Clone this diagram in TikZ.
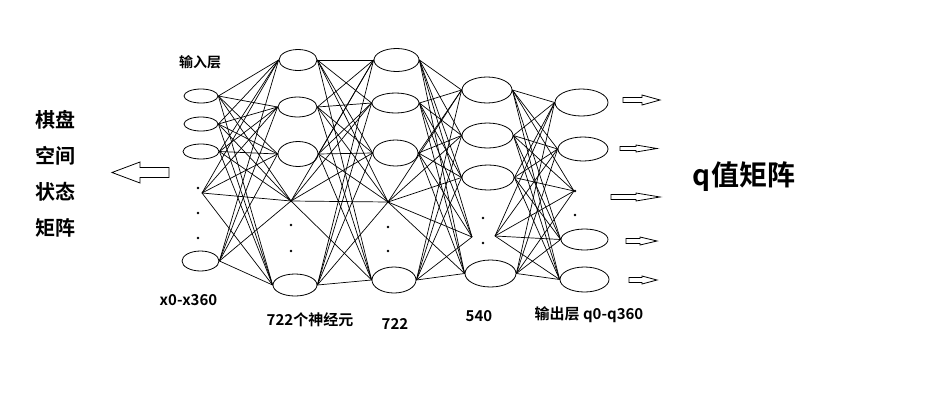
\documentclass[tikz,border=0pt]{standalone}
\usepackage{fontspec}
\usetikzlibrary{shapes.geometric}
\setmainfont{Noto Sans CJK SC}[BoldFont={Noto Sans CJK SC Bold}]
\begin{document}
\begin{tikzpicture}[x=1pt,y=-1pt,
  neuron/.style={draw,ellipse,inner sep=0pt,line width=0.8pt},
  link/.style={line width=0.7pt},
  dotmark/.style={fill,circle,inner sep=0pt,minimum size=2.6pt},
  lbl/.style={font=\bfseries\fontsize{15}{15}\selectfont,inner sep=0pt},
  hollow/.style={draw,line width=0.8pt,fill=white}]
\useasboundingbox (0,0) rectangle (932,405);
% layer 1
\node[neuron,minimum width=34pt,minimum height=14pt] (a1) at (201,96) {};
\node[neuron,minimum width=34pt,minimum height=14pt] (a2) at (201,124) {};
\node[neuron,minimum width=36pt,minimum height=15pt] (a3) at (201,151.5) {};
\coordinate (a4) at (202,193);
\node[neuron,minimum width=37pt,minimum height=20pt] (a5) at (200.5,261) {};
% layer 2
\node[neuron,minimum width=38pt,minimum height=21pt] (b1) at (298,60) {};
\node[neuron,minimum width=39pt,minimum height=20pt] (b2) at (297.5,107) {};
\node[neuron,minimum width=40pt,minimum height=25pt] (b3) at (298,154) {};
\coordinate (b4) at (291,201);
\node[neuron,minimum width=44pt,minimum height=22pt] (b5) at (295,285) {};
% layer 3
\node[neuron,minimum width=45pt,minimum height=23pt] (c1) at (396.5,60) {};
\node[neuron,minimum width=47pt,minimum height=20pt] (c2) at (395.5,103) {};
\node[neuron,minimum width=45pt,minimum height=26pt] (c3) at (395.5,153) {};
\coordinate (c4) at (388,202);
\node[neuron,minimum width=44pt,minimum height=26pt] (c5) at (394,280) {};
% layer 4
\node[neuron,minimum width=50pt,minimum height=26pt] (d1) at (487,90) {};
\node[neuron,minimum width=51pt,minimum height=25pt] (d2) at (487.5,135.5) {};
\node[neuron,minimum width=52pt,minimum height=25pt] (d3) at (488,177.5) {};
\coordinate (d4L) at (472,237);
\coordinate (d4R) at (495,236);
\node[neuron,minimum width=51pt,minimum height=27pt] (d5) at (490.5,273.5) {};
% layer 5
\node[neuron,minimum width=53pt,minimum height=27pt] (e1) at (581.5,102.5) {};
\node[neuron,minimum width=50pt,minimum height=24pt] (e2) at (583,149) {};
\coordinate (e3) at (574,191);
\node[neuron,minimum width=47pt,minimum height=21pt] (e4) at (584.5,239.5) {};
\node[neuron,minimum width=49pt,minimum height=25pt] (e5) at (584.5,279.5) {};
% dots
\foreach \n/\p in {p1/{(198,188)},p2/{(198,213)},p3/{(198,238)},
  q1/{(291,201)},q2/{(291,225)},q3/{(291,251)},
  r1/{(388,202)},r2/{(388,227)},r3/{(388,251)},
  s1/{(483,218)},s2/{(483,243)},
  t1/{(575,191)},t2/{(575,215)}}
  \node[dotmark] (\n) at \p {};
% connections
\foreach \s in {a1.east,a2.east,a3.east,a4,a5.east}
  \foreach \t in {b1.west,b2.west,b3.west,b4,b5.west}
    \draw[link] (\s) -- (\t);
\foreach \s in {b1.east,b2.east,b3.east,b4,b5.east}
  \foreach \t in {c1.west,c2.west,c3.west,c4,c5.west}
    \draw[link] (\s) -- (\t);
\foreach \s in {c1.east,c2.east,c3.east,c4,c5.east}
  \foreach \t in {d1.west,d2.west,d3.west,d4L,d5.west}
    \draw[link] (\s) -- (\t);
\foreach \s in {d1.east,d2.east,d3.east,d4R,d5.east}
  \foreach \t in {e1.west,e2.west,e3,e4.west,e5.west}
    \draw[link] (\s) -- (\t);
% output arrows
\draw[hollow] (623,100) ++(0,-2.5) -- ++(19,0) -- ++(0,-2.5) -- ++(18,5) -- ++(-18,5) -- ++(0,-2.5) -- ++(-19,0) -- cycle;
\draw[hollow] (620,148.5) ++(0,-2) -- ++(16,0) -- ++(0,-1.5) -- ++(21,3.5) -- ++(-21,3.5) -- ++(0,-1.5) -- ++(-16,0) -- cycle;
\draw[hollow] (611,197) ++(0,-2.5) -- ++(25,0) -- ++(0,-1.5) -- ++(24,4) -- ++(-24,4) -- ++(0,-1.5) -- ++(-25,0) -- cycle;
\draw[hollow] (626,241) ++(0,-2.5) -- ++(14,0) -- ++(0,-1.5) -- ++(17,4) -- ++(-17,4) -- ++(0,-1.5) -- ++(-14,0) -- cycle;
\draw[hollow] (629,280) ++(0,-2.5) -- ++(13,0) -- ++(0,-1.5) -- ++(15,4) -- ++(-15,4) -- ++(0,-1.5) -- ++(-13,0) -- cycle;
% input arrow (left)
\draw[hollow] (112,172.5) -- (140,162) -- (140,167.5) -- (169,167.5) -- (169,177.5) -- (140,177.5) -- (140,183) -- cycle;
% labels
\node[lbl,font=\bfseries\fontsize{14}{14}\selectfont] (tin) at (200,62) {输入层};
\node[lbl] (tx) at (188.5,300) {x0-x360};
\node[lbl] (t722a) at (310,320) {722个神经元};
\node[lbl] (t722b) at (395,323.5) {722};
\node[lbl] (t540) at (479,316.5) {540};
\node[lbl] (tout) at (589,315) {输出层 q0-q360};
\node[lbl,font=\bfseries\fontsize{20}{36}\selectfont,align=center] (tleft) at (55,174) {棋盘\\空间\\状态\\矩阵};
\node[lbl,font=\bfseries\fontsize{28}{28}\selectfont] (tq) at (744,177) {q值矩阵};
\end{tikzpicture}
\end{document}
